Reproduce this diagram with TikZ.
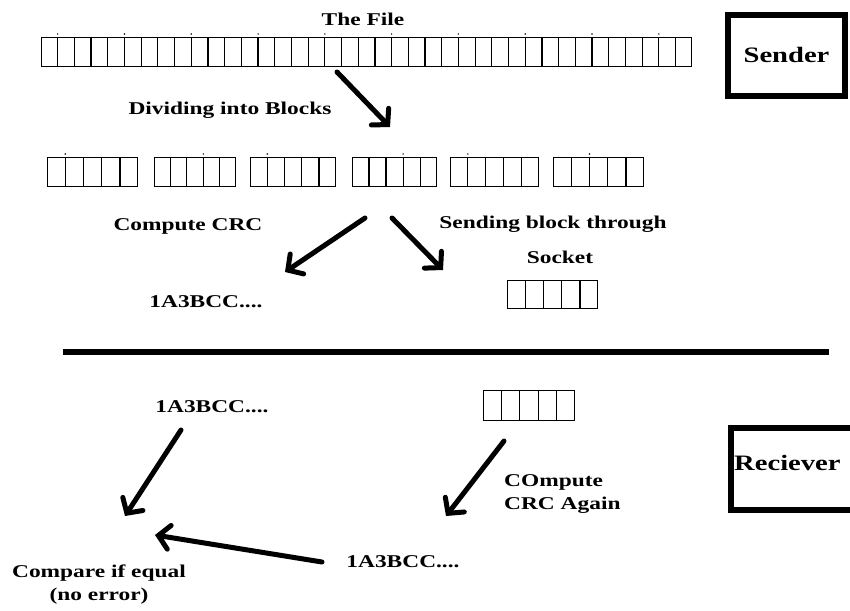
\documentclass[tikz,border=0pt]{standalone}
\usepackage{fontspec}
\setmainfont{Liberation Serif}[FakeStretch=1.3]
\usetikzlibrary{arrows.meta}

\tikzset{
  lbl/.style={font=\fontsize{18}{23}\selectfont\bfseries, inner sep=0pt, align=center},
  bigbox/.style={draw, line width=6pt},
  biglbl/.style={font=\fontsize{22}{26}\selectfont\bfseries, inner sep=0pt},
  cellrow/.style={draw, line width=1.2pt, inner sep=0pt, anchor=north west},
  bigarrow/.style={line width=5pt, line cap=round,
    -{Straight Barb[length=11pt,width=24pt,line cap=round]}},
  divider/.style={line width=6pt},
}

% a row of cells: #1 name, #2 left x, #3 top y, #4 width, #5 height, #6 number of cells
\newcommand{\cellstrip}[6]{%
  \node[cellrow, minimum width=#4pt, minimum height=#5pt] (#1) at (#2,#3) {};
  \foreach \k in {1,...,\numexpr#6-1\relax}{
    \draw[line width=1.2pt] ($(#1.north west)!\k/#6!(#1.north east)$) -- ($(#1.south west)!\k/#6!(#1.south east)$);
  }
}
\usetikzlibrary{calc}

\begin{document}
\begin{tikzpicture}[x=1pt,y=-1pt]
\useasboundingbox (0,0) rectangle (850,610);

% ---- sender side ----
\node[lbl] (title) at (363,19) {The File};
\cellstrip{file}{41}{37}{650}{29}{39}
\foreach \k in {1,5,...,37}{
  \fill ($(file.north west)!\k/39!(file.north east)+(0,-3)$) circle (0.8pt);
}

\draw[bigbox] (728,15) rectangle (845,96);
\node[biglbl] (sender) at (786.5,55) {Sender};

\node[lbl] (divide) at (230,110) {Dividing into Blocks};

\cellstrip{b1}{47}{157}{90}{29}{5}
\cellstrip{b2}{154}{157}{81}{29}{5}
\cellstrip{b3}{250}{157}{85}{29}{5}
\cellstrip{b4}{352}{157}{84}{29}{5}
\cellstrip{b5}{450}{157}{88}{29}{5}
\cellstrip{b6}{553}{157}{90}{29}{5}
\foreach \b/\f in {b1/1, b2/3, b3/1, b4/3, b5/1, b6/2}{
  \fill ($(\b.north west)!\f/5!(\b.north east)+(0,-3)$) circle (0.8pt);
}

\node[lbl] (crc) at (188,226) {Compute CRC};
\node[lbl] (send) at (553,224) {Sending block through};
\node[lbl] (socket) at (560,257) {Socket};
\node[lbl] (sum1) at (206,302) {1A3BCC....};
\cellstrip{sblk}{507}{280}{90}{28}{5}

\coordinate (a1s) at (337,72);  \coordinate (a1e) at (390,127);
\coordinate (a2s) at (365,218); \coordinate (a2e) at (285,272);
\coordinate (a3s) at (392,218); \coordinate (a3e) at (443,270);
\draw[bigarrow] (a1s) -- (a1e);
\draw[bigarrow] (a2s) -- (a2e);
\draw[bigarrow] (a3s) -- (a3e);

% ---- separator ----
\coordinate (divl) at (63,352);
\coordinate (divr) at (829,352);
\draw[divider] (divl) -- (divr);

% ---- receiver side ----
\node[lbl] (sum2) at (212,407) {1A3BCC....};
\cellstrip{rblk}{483}{390}{91}{30}{5}

\draw[bigbox] (731,428) rectangle (870,510);
\node[biglbl, anchor=west] (recv) at (734,463) {Reciever};

\node[lbl, align=left, anchor=west] (again) at (504,494.5) {COmpute\\CRC Again};
\node[lbl] (sum3) at (403,562) {1A3BCC....};
\node[lbl] (cmp) at (99,585) {Compare if equal\\(no error)};

\coordinate (a4s) at (181,430); \coordinate (a4e) at (125,516);
\coordinate (a5s) at (322,562); \coordinate (a5e) at (155,535);
\coordinate (a6s) at (504,441); \coordinate (a6e) at (446,516);
\draw[bigarrow] (a4s) -- (a4e);
\draw[bigarrow] (a5s) -- (a5e);
\draw[bigarrow] (a6s) -- (a6e);
\end{tikzpicture}
\end{document}
